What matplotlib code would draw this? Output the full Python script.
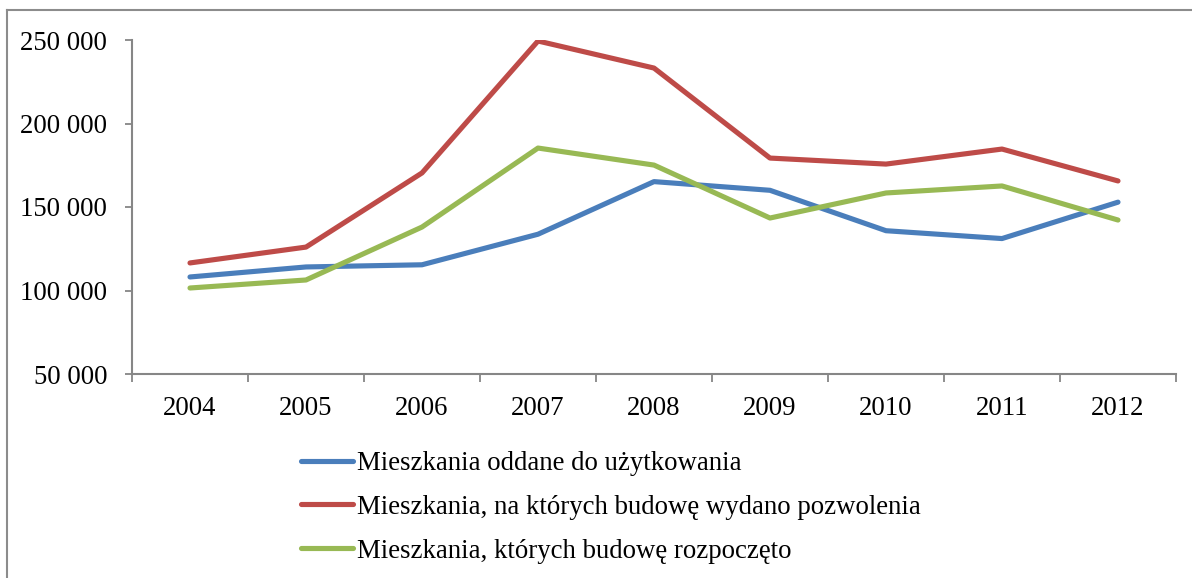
import matplotlib
matplotlib.use("Agg")
import matplotlib.pyplot as plt
from matplotlib.lines import Line2D
import numpy as np

years = ["2004", "2005", "2006", "2007", "2008", "2009", "2010", "2011", "2012"]
oddane = [108100, 114100, 115400, 133700, 165200, 160000, 135800, 131100, 152900]
pozwolenia = [116500, 126000, 170400, 249400, 233200, 179300, 175700, 184700, 165600]
rozpoczete = [101500, 106300, 138000, 185300, 175100, 143400, 158400, 162600, 142200]
labels = ["Mieszkania oddane do użytkowania",
          "Mieszkania, na których budowę wydano pozwolenia",
          "Mieszkania, których budowę rozpoczęto"]
colors = ["#4A7EBB", "#BE4B48", "#98B954"]
yticks = [50000, 100000, 150000, 200000, 250000]

plt.rcParams['font.family'] = ['Liberation Serif', 'DejaVu Serif']
W, H = 1192, 578
FS = 19.3
fig = plt.figure(figsize=(W / 100, H / 100), dpi=100)
ax = fig.add_axes([132 / W, (H - 374) / H, (1176 - 132) / W, (374 - 40) / H])

x = np.arange(len(years))
for vals, c, lab in zip([oddane, pozwolenia, rozpoczete], colors, labels):
    ax.plot(x, vals, color=c, lw=3.7, solid_capstyle='round', solid_joinstyle='round', label=lab)

ax.set_xlim(-0.5, len(years) - 0.5)
ax.set_ylim(50000, 250000)
ax.set_yticks(yticks)
ax.set_yticklabels([f"{v:,}".replace(",", " ") for v in yticks], fontsize=FS)
ax.set_xticks(x)
ax.set_xticklabels(years, fontsize=FS)
ax.set_xticks(np.arange(-0.5, len(years)), minor=True)
ax.tick_params(axis='x', which='major', length=0, pad=16)
ax.tick_params(axis='x', which='minor', length=6, width=1.3, color='#868686', direction='out')
ax.tick_params(axis='y', which='major', length=5, width=1.3, color='#868686', pad=13)

for s in ['top', 'right']:
    ax.spines[s].set_visible(False)
for s in ['left', 'bottom']:
    ax.spines[s].set_color('#868686')
    ax.spines[s].set_linewidth(1.5)

leg = fig.legend(loc='upper left', bbox_to_anchor=(301 / W, 1 - 451 / H), frameon=False,
                 fontsize=FS, handlelength=1.95, handletextpad=0.15, labelspacing=0.7,
                 borderaxespad=0, borderpad=0)

# outer frame (top and left visible)
fig.add_artist(Line2D([7.5 / W, 7.5 / W], [0, 1 - 10 / H], transform=fig.transFigure, color='#8c8c8c', lw=1.5))
fig.add_artist(Line2D([7.5 / W, 1], [1 - 10 / H, 1 - 10 / H], transform=fig.transFigure, color='#8c8c8c', lw=1.5))

fig.savefig("out.png", dpi=100)
